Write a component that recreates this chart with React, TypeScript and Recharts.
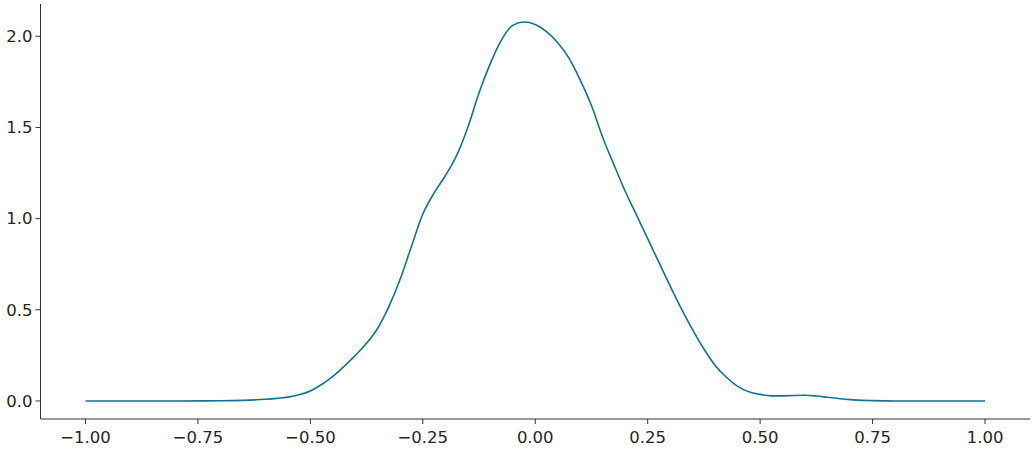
import React from 'react';
import { LineChart, Line, XAxis, YAxis } from 'recharts';

// density estimate
const xValues = [
  -1.0, -0.9, -0.8, -0.7, -0.65, -0.6, -0.575, -0.55, -0.525, -0.5, -0.475, -0.45, -0.425, -0.4,
  -0.375, -0.35, -0.325, -0.3, -0.275, -0.25, -0.225, -0.2, -0.175, -0.15, -0.125, -0.1, -0.075,
  -0.05, -0.025, 0.0, 0.025, 0.05, 0.075, 0.1, 0.125, 0.15, 0.175, 0.2, 0.225, 0.25, 0.275, 0.3,
  0.325, 0.35, 0.375, 0.4, 0.425, 0.45, 0.475, 0.5, 0.525, 0.55, 0.575, 0.6, 0.625, 0.65, 0.675,
  0.7, 0.75, 0.8, 0.9, 1.0,
];
const densityValues = [
  0.0, 0.0, 0.0, 0.001, 0.003, 0.009, 0.014, 0.021, 0.034, 0.055, 0.09, 0.135, 0.19, 0.25,
  0.316, 0.4, 0.52, 0.67, 0.85, 1.025, 1.14, 1.235, 1.345, 1.5, 1.69, 1.85, 1.98,
  2.06, 2.078, 2.065, 2.025, 1.965, 1.88, 1.76, 1.62, 1.445, 1.295, 1.15, 1.02, 0.89, 0.76, 0.63,
  0.505, 0.39, 0.285, 0.195, 0.13, 0.08, 0.05, 0.036, 0.028, 0.028, 0.03, 0.031, 0.027, 0.02, 0.013,
  0.007, 0.002, 0.0, 0.0, 0.0,
];
const xTicks = [-1, -0.75, -0.5, -0.25, 0, 0.25, 0.5, 0.75, 1];
const yTicks = [0, 0.5, 1, 1.5, 2];

const data = xValues.map((x, i) => ({ x, y: densityValues[i] }));

const fmt = (v: number, digits: number) => {
  const s = Math.abs(v).toFixed(digits);
  return v < 0 ? '\u2212' + s : s;
};

const tickStyle = { fill: '#262626', fontSize: 16.5, fontFamily: 'DejaVu Sans' };

export default function App() {
  return (
    <div style={{ position: 'absolute', left: 0, top: 0, background: '#fff' }}>
      <LineChart width={1035} height={450} data={data} margin={{ top: 4, right: 5, bottom: 0, left: 0 }}>
        <XAxis
          dataKey="x"
          type="number"
          domain={[-1.1, 1.1]}
          ticks={xTicks}
          allowDataOverflow
          height={31}
          tickFormatter={(v: number) => fmt(v, 2)}
          tick={tickStyle}
          stroke="#333"
          tickSize={5}
          tickMargin={7}
        />
        <YAxis
          type="number"
          domain={[-0.099, 2.177]}
          ticks={yTicks}
          allowDataOverflow
          width={40.5}
          tickFormatter={(v: number) => fmt(v, 1)}
          tick={tickStyle}
          stroke="#333"
          tickSize={5}
          tickMargin={3}
        />
        <Line
          type="monotone"
          dataKey="y"
          stroke="#11758f"
          strokeWidth={1.6}
          dot={false}
          isAnimationActive={false}
        />
      </LineChart>
    </div>
  );
}
